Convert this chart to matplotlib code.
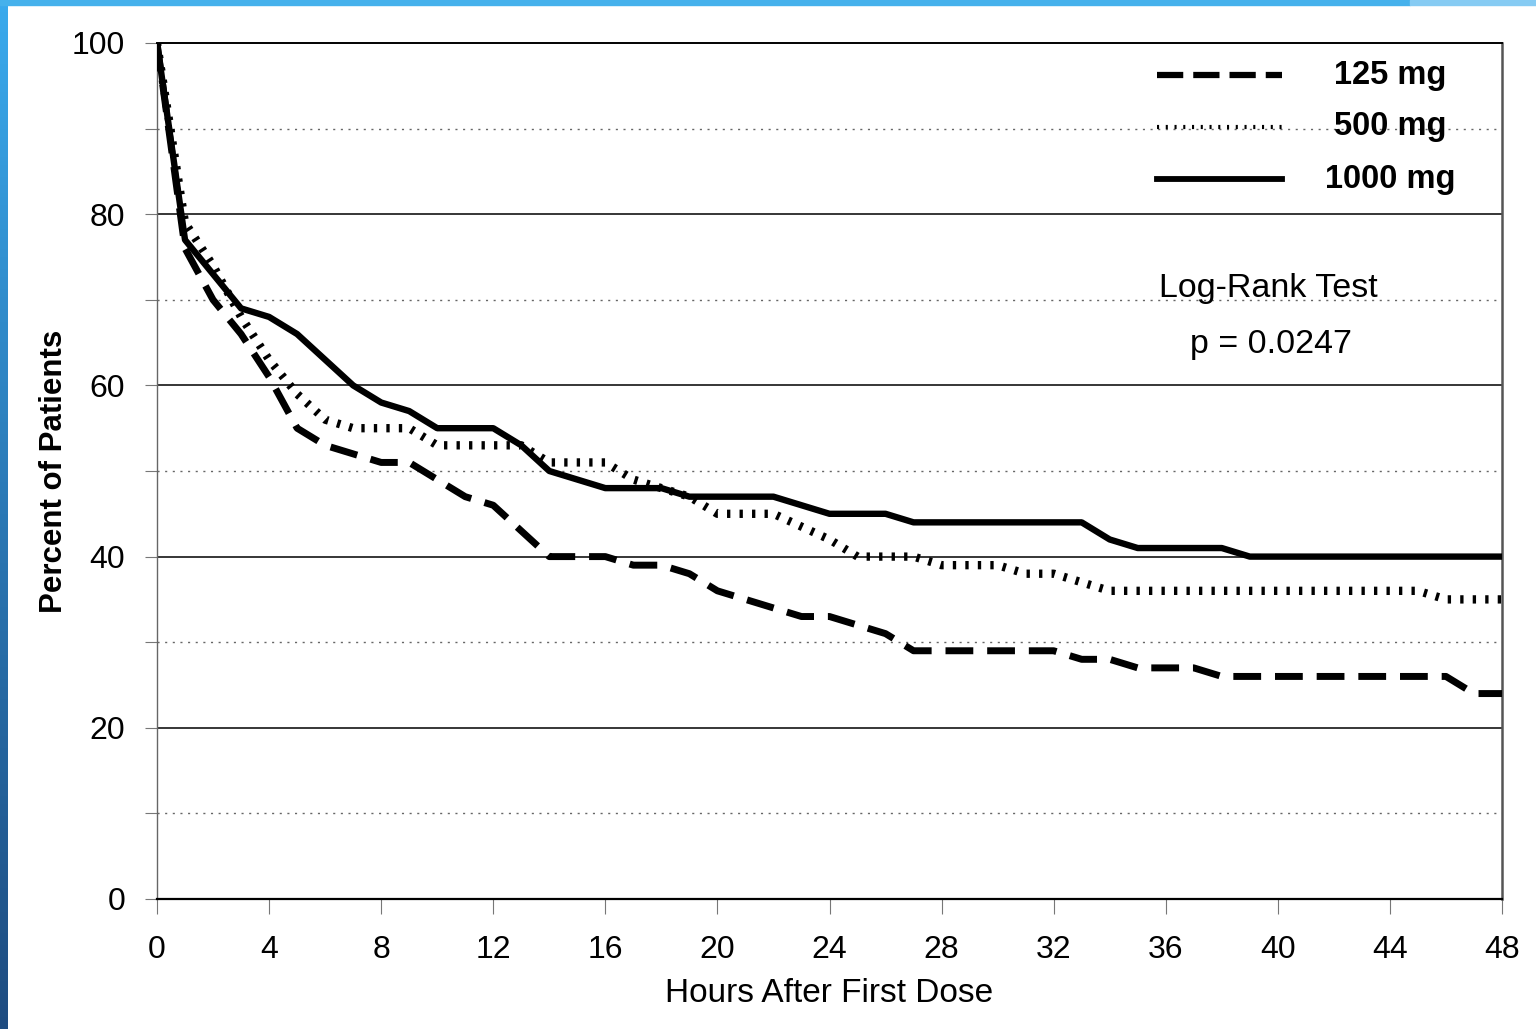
import numpy as np
import matplotlib
matplotlib.use("Agg")
import matplotlib.pyplot as plt
from matplotlib.colors import LinearSegmentedColormap
from matplotlib.patches import Rectangle

# proportion of patients still symptomatic (hours, %)
hours_125 = [0, 1, 2, 3, 4, 5, 6, 7, 8, 9, 10, 11, 12, 13, 14, 16, 17, 18, 19, 20,
             21, 22, 23, 24, 25, 26, 27, 32, 33, 34, 35, 37, 38, 46, 47, 48]
pct_125 = [100, 76, 70, 66, 61, 55, 53, 52, 51, 51, 49, 47, 46, 43, 40, 40, 39, 39, 38, 36,
           35, 34, 33, 33, 32, 31, 29, 29, 28, 28, 27, 27, 26, 26, 24, 24]

hours_500 = [0, 1, 2, 3, 4, 5, 6, 7, 9, 10, 13, 14, 16, 17, 18, 19, 20, 22, 23, 24,
             25, 27, 28, 30, 31, 32, 33, 34, 45, 46, 48]
pct_500 = [100, 79, 74, 68, 63, 59, 56, 55, 55, 53, 53, 51, 51, 49, 48, 47, 45, 45, 43.5, 42,
           40, 40, 39, 39, 38, 38, 37, 36, 36, 35, 35]

hours_1000 = [0, 1, 2, 3, 4, 5, 6, 7, 8, 9, 10, 12, 13, 14, 16, 18, 19, 22, 24, 26,
              27, 33, 34, 35, 38, 39, 48]
pct_1000 = [100, 77, 73, 69, 68, 66, 63, 60, 58, 57, 55, 55, 53, 50, 48, 48, 47, 47, 45, 45,
            44, 44, 42, 41, 41, 40, 40]

labels = ["125 mg", "500 mg", "1000 mg"]

plt.rcParams["font.family"] = ["Liberation Sans", "DejaVu Sans"]

fig = plt.figure(figsize=(15.36, 10.29), dpi=100)
ax = fig.add_axes([157 / 1536, 1 - 899 / 1029, 1345 / 1536, 856 / 1029])

# slide frame: blue bar on top and a gradient bar on the left
fig.patches.append(Rectangle((0, 1 - 5 / 1029), 1410 / 1536, 5 / 1029,
                             transform=fig.transFigure, color="#45b1ec", zorder=10))
fig.patches.append(Rectangle((1410 / 1536, 1 - 5 / 1029), 1 - 1410 / 1536, 5 / 1029,
                             transform=fig.transFigure, color="#86cbf3", zorder=10))
bar = fig.add_axes([0, 0, 8 / 1536, 1])
cmap = LinearSegmentedColormap.from_list("frame", ["#3aaaed", "#2a78b5", "#1f4c80"])
bar.imshow(np.linspace(0, 1, 256).reshape(-1, 1), aspect="auto", cmap=cmap)
bar.set_axis_off()

# grid: solid at 20s, dotted at 10s
for yv in [20, 40, 60, 80]:
    ax.axhline(yv, color="black", lw=1.1, zorder=1)
for yv in [10, 30, 50, 70, 90]:
    ax.axhline(yv, color="#666666", lw=1.0, ls=(0, (1.5, 4)), zorder=1)

l125, = ax.plot(hours_125, pct_125, color="black", lw=5.0, zorder=3)
l125.set_dashes([4.0, 2.0])
l500, = ax.plot(hours_500, pct_500, color="black", lw=6.0, zorder=3)
l500.set_dashes([0.4, 1.1])
ax.plot(hours_1000, pct_1000, color="black", lw=4.6, zorder=4,
        solid_joinstyle="round", solid_capstyle="butt")

ax.set_xlim(0, 48)
ax.set_ylim(0, 100)
ax.set_xticks(range(0, 49, 4))
ax.set_yticks(range(0, 101, 20))
ax.set_yticks(range(10, 100, 20), minor=True)
ax.tick_params(axis="x", direction="out", length=11, width=0.8, color="#777777",
               labelsize=23, pad=15)
ax.tick_params(axis="y", which="both", direction="out", length=9, width=0.8,
               color="#777777", labelsize=23, pad=14)

ax.spines["left"].set_color("#666666")
ax.spines["left"].set_linewidth(1.0)
ax.spines["bottom"].set_color("black")
ax.spines["bottom"].set_linewidth(1.6)
ax.spines["top"].set_color("black")
ax.spines["top"].set_linewidth(1.4)
ax.spines["right"].set_color("#555555")
ax.spines["right"].set_linewidth(1.8)

ax.set_xlabel("Hours After First Dose", fontsize=24, labelpad=9)
ax.set_ylabel("Percent of Patients", fontsize=22.5, fontweight="bold", labelpad=2)

# legend, drawn by hand with centred labels
x0, x1, xt = 0.7435, 0.8364, 0.9167
for (y, lab, style) in zip([0.9626, 0.9019, 0.8411], labels, ["dash", "dot", "solid"]):
    ln, = ax.plot([x0, x1], [y, y], transform=ax.transAxes, color="black", zorder=5)
    if style == "dash":
        ln.set_linewidth(4.5)
        ln.set_dashes([4.2, 1.6])
    elif style == "dot":
        ln.set_linewidth(3.0)
        ln.set_dashes([0.5, 1.6])
    else:
        ln.set_linewidth(4.2)
    ax.text(xt, y, lab, transform=ax.transAxes, ha="center", va="center",
            fontsize=23.5, fontweight="bold", zorder=5)

ax.text(0.826, 0.713, "Log-Rank Test", transform=ax.transAxes, ha="center",
        va="center", fontsize=24.5)
ax.text(0.828, 0.648, "p = 0.0247", transform=ax.transAxes, ha="center",
        va="center", fontsize=24.5)

fig.savefig("out.png", dpi=100)
